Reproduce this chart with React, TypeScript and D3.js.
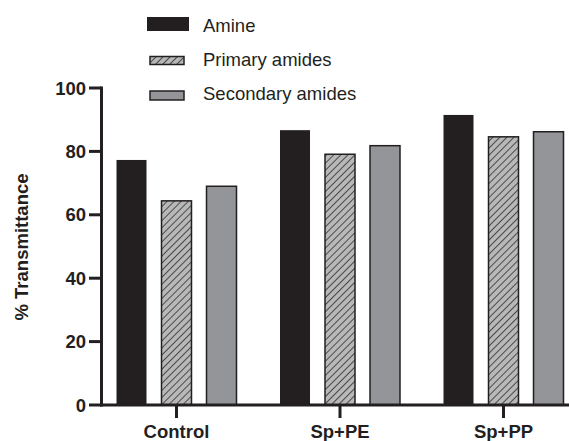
import React from "react";
import * as d3 from "d3";

const categories = ["Control", "Sp+PE", "Sp+PP"];
const seriesNames = ["Amine", "Primary amides", "Secondary amides"];
const amine = [77.3, 86.7, 91.5];
const primaryAmides = [64.4, 79.1, 84.6];
const secondaryAmides = [69.0, 81.8, 86.2];
const yTicks = [0, 20, 40, 60, 80, 100];

const W = 569;
const H = 441;
const FONT = "'Liberation Sans', Arial, Helvetica, sans-serif";
const DARK = "#231f20";

export default function App() {
  const seriesValues = [amine, primaryAmides, secondaryAmides];
  const y = d3.scaleLinear().domain([0, 100]).range([405, 88]);
  const xGroup = d3.scalePoint<string>().domain(categories).range([176.5, 503.5]);
  const xInner = d3
    .scaleBand<string>()
    .domain(seriesNames)
    .range([-67.5, 67.5])
    .paddingInner(1 / 3)
    .paddingOuter(1 / 6);

  const fillFor = (i: number) =>
    i === 0 ? DARK : i === 1 ? "url(#hatch)" : "#939598";

  const legendRows = [
    { swatch: { x: 147, y: 17, w: 42, h: 14 }, textY: 31.5 },
    { swatch: { x: 150, y: 56.5, w: 34, h: 8 }, textY: 65.5 },
    { swatch: { x: 150, y: 91, w: 34, h: 9 }, textY: 100 },
  ];

  return (
    <div style={{ position: "fixed", left: 0, top: 0 }}>
      <svg width={W} height={H} style={{ display: "block", background: "#fff" }}>
        <defs>
          <pattern
            id="hatch"
            patternUnits="userSpaceOnUse"
            width={5}
            height={5}
            patternTransform="rotate(45)"
          >
            <rect width={5} height={5} fill="#b8b8b8" />
            <line x1={0} y1={0} x2={0} y2={5} stroke="#4a4a4a" strokeWidth={2} />
          </pattern>
        </defs>

        {/* bars */}
        {categories.map((c, ci) =>
          seriesNames.map((s, si) => {
            const v = seriesValues[si][ci];
            const x0 = (xGroup(c) as number) + (xInner(s) as number);
            return (
              <rect
                key={c + s}
                x={x0}
                y={y(v)}
                width={xInner.bandwidth()}
                height={y(0) - y(v)}
                fill={fillFor(si)}
                stroke={DARK}
                strokeWidth={si === 0 ? 0 : 1.5}
              />
            );
          })
        )}

        {/* y axis */}
        <line x1={101.5} x2={101.5} y1={y(100) - 1.5} y2={y(0) + 1.5} stroke={DARK} strokeWidth={3} />
        {yTicks.map((t) => (
          <g key={t}>
            <line x1={89} x2={101.5} y1={y(t)} y2={y(t)} stroke={DARK} strokeWidth={3} />
            <text
              x={86}
              y={y(t)}
              dy="0.36em"
              textAnchor="end"
              fontFamily={FONT}
              fontWeight="bold"
              fontSize={18.5}
              fill={DARK}
            >
              {t}
            </text>
          </g>
        ))}

        {/* x axis */}
        <line x1={100} x2={W} y1={y(0)} y2={y(0)} stroke={DARK} strokeWidth={3} />
        {categories.map((c) => (
          <g key={c}>
            <line
              x1={xGroup(c) as number}
              x2={xGroup(c) as number}
              y1={y(0)}
              y2={y(0) + 13}
              stroke={DARK}
              strokeWidth={3}
            />
            <text
              x={xGroup(c) as number}
              y={438}
              textAnchor="middle"
              fontFamily={FONT}
              fontWeight="bold"
              fontSize={18.5}
              fill={DARK}
            >
              {c}
            </text>
          </g>
        ))}

        {/* y title */}
        <text
          transform="translate(28,247) rotate(-90)"
          textAnchor="middle"
          fontFamily={FONT}
          fontWeight="bold"
          fontSize={18.5}
          fill={DARK}
        >
          % Transmittance
        </text>

        {/* legend */}
        {seriesNames.map((s, i) => {
          const r = legendRows[i];
          return (
            <g key={s}>
              <rect
                x={r.swatch.x}
                y={r.swatch.y}
                width={r.swatch.w}
                height={r.swatch.h}
                fill={fillFor(i)}
                stroke={DARK}
                strokeWidth={i === 0 ? 0 : 1.5}
              />
              <text x={203} y={r.textY} fontFamily={FONT} fontSize={18.5} fill={DARK}>
                {s}
              </text>
            </g>
          );
        })}
      </svg>
    </div>
  );
}
